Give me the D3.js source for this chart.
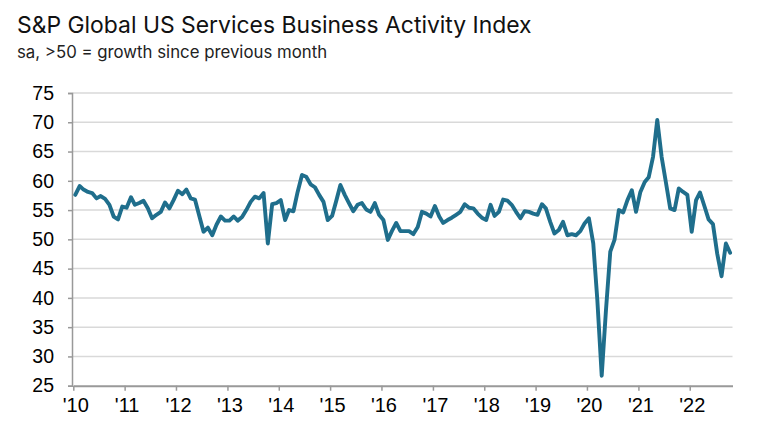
<!DOCTYPE html>
<html>
<head>
<meta charset="utf-8">
<script src="https://cdn.jsdelivr.net/npm/d3@7"></script>
<style>
  body { margin: 0; background: #fff; }
</style>
</head>
<body>
<script>
// monthly index values, Jan..Dec
const y2010 = [57.6, 59.1, 58.5, 58.1, 57.9, 57.0, 57.4, 56.9, 55.9, 53.9, 53.4, 55.6];
const y2011 = [55.4, 57.2, 55.9, 56.2, 56.6, 55.3, 53.6, 54.2, 54.7, 56.3, 55.3, 56.7];
const y2012 = [58.3, 57.7, 58.5, 57.0, 56.8, 54.0, 51.3, 52.0, 50.7, 52.5, 53.9, 53.2];
const y2013 = [53.2, 53.9, 53.2, 53.8, 55.0, 56.4, 57.3, 57.0, 57.9, 49.3, 56.0, 56.2];
const y2014 = [56.7, 53.3, 55.0, 54.8, 58.1, 61.0, 60.7, 59.4, 58.9, 57.6, 56.4, 53.3];
const y2015 = [54.0, 56.7, 59.3, 57.6, 56.2, 54.8, 55.9, 56.2, 55.1, 54.7, 56.2, 54.2];
const y2016 = [53.3, 49.9, 51.4, 52.8, 51.4, 51.4, 51.4, 50.9, 52.1, 54.7, 54.4, 53.9];
const y2017 = [55.7, 53.9, 52.8, 53.3, 53.7, 54.2, 54.7, 56.0, 55.4, 55.3, 54.4, 53.7];
const y2018 = [53.3, 55.9, 54.0, 54.7, 56.8, 56.6, 55.9, 54.7, 53.6, 54.8, 54.7, 54.4];
const y2019 = [54.2, 56.0, 55.3, 53.0, 51.0, 51.6, 53.0, 50.7, 50.9, 50.7, 51.4, 52.7];
const y2020 = [53.6, 49.3, 39.6, 26.7, 37.8, 47.9, 49.9, 55.0, 54.6, 56.7, 58.4, 54.7];
const y2021 = [58.1, 59.8, 60.6, 64.1, 70.4, 64.1, 59.8, 55.3, 55.0, 58.7, 58.1, 57.6];
const y2022 = [51.3, 56.7, 58.0, 55.7, 53.4, 52.6, 47.6, 43.7, 49.3, 47.7];

const yearValues = [y2010, y2011, y2012, y2013, y2014, y2015, y2016, y2017, y2018, y2019, y2020, y2021, y2022];
const firstYear = 2010;
const yTicks = [25, 30, 35, 40, 45, 50, 55, 60, 65, 70, 75];
const xTickLabels = ["'10", "'11", "'12", "'13", "'14", "'15", "'16", "'17", "'18", "'19", "'20", "'21", "'22"];

const titleText = "S&P Global US Services Business Activity Index";
const subtitleText = "sa, >50 = growth since previous month";

// flatten into {date, value}, points sit mid-month
const data = [];
yearValues.forEach((arr, yi) => {
    arr.forEach((v, m) => {
        data.push({ date: new Date(firstYear + yi, m, 15), value: v });
    });
});

const svgWidth = 761;
const svgHeight = 434;

const svg = d3.select("body")
    .append("svg")
    .attr("width", svgWidth)
    .attr("height", svgHeight);

const x = d3.scaleTime()
    .domain([new Date(2010, 0, 1), new Date(2022, 10, 1)])
    .range([73.3, 732.5]);

const y = d3.scaleLinear()
    .domain([25, 75])
    .range([385.7, 93]);

const labelFont = "'Liberation Sans', Arial, sans-serif";

// title + subtitle
svg.append("text")
    .attr("x", 17)
    .attr("y", 33)
    .style("font-family", "Inter, 'Noto Sans', sans-serif")
    .style("font-size", "22.9px")
    .style("fill", "#111")
    .text(titleText);

svg.append("text")
    .attr("x", 17)
    .attr("y", 58)
    .style("font-family", "Inter, 'Noto Sans', sans-serif")
    .style("font-size", "16.8px")
    .style("fill", "#222")
    .text(subtitleText);

// gridlines
svg.append("g")
    .selectAll("line")
    .data(yTicks.filter(d => d > 25))
    .enter()
    .append("line")
    .attr("x1", 72)
    .attr("x2", 732.5)
    .attr("y1", d => y(d))
    .attr("y2", d => y(d))
    .style("stroke", "#d9d9d9")
    .style("stroke-width", 1.5);

// y axis
const yAxis = svg.append("g")
    .attr("transform", "translate(72,0)")
    .call(d3.axisLeft(y).tickValues(yTicks).tickSize(4).tickPadding(14));

yAxis.select(".domain").style("stroke", "#999").style("stroke-width", 1.5);
yAxis.selectAll(".tick line").style("stroke", "#999").style("stroke-width", 1.5);
yAxis.selectAll(".tick text")
    .style("font-family", labelFont)
    .style("font-size", "19.5px")
    .style("fill", "#000");

// x axis, ticks at each January
const yearTicks = xTickLabels.map((d, i) => new Date(firstYear + i, 0, 1));

const xAxis = svg.append("g")
    .attr("transform", "translate(0," + y(25) + ")")
    .call(d3.axisBottom(x)
        .tickValues(yearTicks)
        .tickFormat((d, i) => xTickLabels[i])
        .tickSize(5)
        .tickSizeOuter(0)
        .tickPadding(7));

xAxis.select(".domain").style("stroke", "#999").style("stroke-width", 2);
xAxis.selectAll(".tick line").style("stroke", "#999").style("stroke-width", 1.5);
xAxis.selectAll(".tick text")
    .attr("dx", 2)
    .style("font-family", labelFont)
    .style("font-size", "20px")
    .style("fill", "#000");

// the series
const line = d3.line()
    .x(d => x(d.date))
    .y(d => y(d.value));

svg.append("path")
    .datum(data)
    .attr("d", line)
    .style("fill", "none")
    .style("stroke", "#1f6e8c")
    .style("stroke-width", 3.9)
    .style("stroke-linejoin", "round")
    .style("stroke-linecap", "round");
</script>
</body>
</html>
